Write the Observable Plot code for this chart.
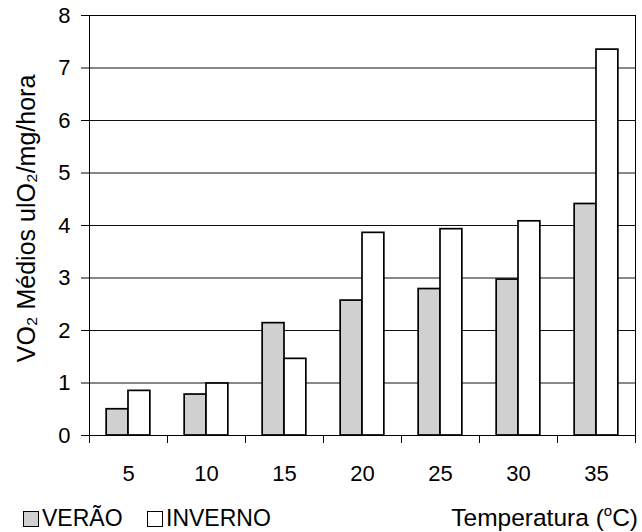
<!DOCTYPE html>
<html>
<head>
<meta charset="utf-8">
<script src="https://cdn.jsdelivr.net/npm/d3@7"></script>
<script src="https://cdn.jsdelivr.net/npm/@observablehq/plot@0.6"></script>
<style>
  html, body { margin: 0; padding: 0; background: #fff; }
  body { width: 642px; font-family: "Liberation Sans", Arial, sans-serif; color: #000; }
  #legend { position: relative; height: 42px; }
  .item { position: absolute; white-space: nowrap; }
  .leg { top: 15px; line-height: 26px; font-size: 23px; }
  .ttl { top: 14px; line-height: 27px; font-size: 24.5px; }
  .sw { display: inline-block; width: 14px; height: 14px; border: 1px solid #000; vertical-align: -1px; margin-right: 3px; }
  sup { font-size: 15px; vertical-align: 10px; line-height: 0; }
</style>
</head>
<body>
<div id="chart"></div>
<div id="legend"></div>
<script>
// ---- data ----
const temps = ["5", "10", "15", "20", "25", "30", "35"];
const verao = [0.50, 0.78, 2.14, 2.57, 2.79, 2.97, 4.41];
const inverno = [0.85, 0.99, 1.46, 3.86, 3.93, 4.08, 7.35];
const seriesNames = ["VERÃO", "INVERNO"];
const yTicks = [0, 1, 2, 3, 4, 5, 6, 7, 8];
const yLabel = "VO₂ Médios ulO₂/mg/hora";
const xLabel = "Temperatura (";
const xLabelSup = "o";
const xLabelEnd = "C)";

// ---- layout ----
const W = 642, H = 490, ML = 89, MR = 7, MT = 15, MB = 55;
const step = (W - ML - MR) / temps.length;
const colors = {"VERÃO": "#d0d0d0", "INVERNO": "#ffffff"};

const rowsV = temps.map((t, i) => ({t, v: verao[i], s: seriesNames[0]}));
const rowsI = temps.map((t, i) => ({t, v: inverno[i], s: seriesNames[1]}));

const chart = Plot.plot({
  width: W, height: H,
  marginLeft: ML, marginRight: MR, marginTop: MT, marginBottom: MB,
  style: {fontFamily: "'Liberation Sans', Arial, sans-serif", fontSize: "22px", color: "#000", background: "#fff", overflow: "visible"},
  x: {type: "band", domain: temps, padding: 0, label: null},
  y: {domain: [0, 8], label: null},
  marks: [
    Plot.ruleY(yTicks.slice(1, -1), {stroke: "#111", strokeWidth: 1}),
    Plot.barY(rowsV, {x: "t", y: "v", fill: colors["VERÃO"], stroke: "#000", strokeWidth: 1.7,
      insetLeft: step * 0.22, insetRight: step * 0.5}),
    Plot.barY(rowsI, {x: "t", y: "v", fill: colors["INVERNO"], stroke: "#000", strokeWidth: 1.7,
      insetLeft: step * 0.5, insetRight: step * 0.22}),
    Plot.frame({stroke: "#000", strokeWidth: 1}),
    Plot.axisY({ticks: yTicks, tickSize: 8, tickPadding: 11, tickFormat: d => String(d), label: null, stroke: "#000"}),
    Plot.axisX({tickSize: 0, tickPadding: 30, label: null}),
    Plot.axisX({ticks: temps, tickSize: 8, tickFormat: () => "", label: null, dx: -step / 2}),
    Plot.axisX({ticks: [temps[temps.length - 1]], tickSize: 8, tickFormat: () => "", label: null, dx: step / 2}),
    Plot.text([yLabel], {text: d => d, frameAnchor: "left", rotate: -90, dx: -55, dy: -7,
      textAnchor: "middle", lineAnchor: "bottom", fontSize: 25})
  ]
});
document.getElementById("chart").appendChild(chart);

// ---- legend + x title (below the SVG) ----
const legend = document.getElementById("legend");
const lefts = [23, 147];
seriesNames.forEach((name, i) => {
  const d = document.createElement("div");
  d.className = "item leg";
  d.style.left = lefts[i] + "px";
  const sw = document.createElement("span");
  sw.className = "sw";
  sw.style.background = colors[name];
  d.appendChild(sw);
  d.appendChild(document.createTextNode(name));
  legend.appendChild(d);
});
const t = document.createElement("div");
t.className = "item ttl";
t.style.right = "4px";
t.appendChild(document.createTextNode(xLabel));
const sup = document.createElement("sup");
sup.textContent = xLabelSup;
t.appendChild(sup);
t.appendChild(document.createTextNode(xLabelEnd));
legend.appendChild(t);
</script>
</body>
</html>
